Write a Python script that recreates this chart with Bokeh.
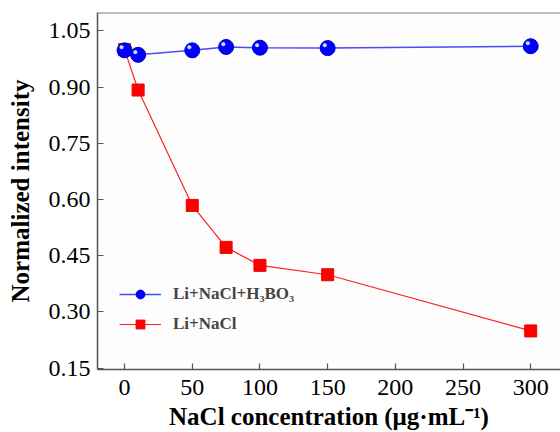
from bokeh.plotting import figure
from bokeh.models import ColumnDataSource, Legend, LegendItem, Span, FixedTicker, NumeralTickFormatter
from bokeh.embed import file_html
from bokeh.resources import INLINE

# data
nacl = [0, 10, 50, 75, 100, 150, 300]
boric = [0.998, 0.986, 0.998, 1.007, 1.005, 1.004, 1.009]
plain = [1.000, 0.892, 0.584, 0.472, 0.424, 0.399, 0.249]
x_ticks = [0, 50, 100, 150, 200, 250, 300]
y_ticks = [0.15, 0.30, 0.45, 0.60, 0.75, 0.90, 1.05]
label_a = "Li+NaCl+H\u2083BO\u2083"
label_b = "Li+NaCl"
x_title = "NaCl concentration (\u03bcg\u00b7mL\u207b\u00b9)"
y_title = "Normalized intensity"

SERIF = "Liberation Serif"

p = figure(width=560, height=432, x_range=(-20, 322), y_range=(0.146, 1.099),
           output_backend="svg", toolbar_location=None,
           min_border_left=97, min_border_right=0, min_border_top=12, min_border_bottom=63)
p.outline_line_color = None
p.grid.visible = False
p.background_fill_color = "#fdfdfd"

src_a = ColumnDataSource(dict(x=nacl, y=boric, t=["\u25cf"] * len(nacl)))
src_b = ColumnDataSource(dict(x=nacl, y=plain))

lb = p.line("x", "y", source=src_b, color="#ff2020", line_width=1.2)
sb = p.scatter("x", "y", source=src_b, marker="square", size=12, fill_color="#ff0000", line_color="#ee0000")
la = p.line("x", "y", source=src_a, color="#4a4aff", line_width=1.5)
sa = p.scatter("x", "y", source=src_a, marker="circle", size=15, fill_color="#0000ff", line_color="#0000c0")
p.text("x", "y", text="t", source=src_a, x_offset=-3, y_offset=-3, text_color="#c8e4ff",
       text_font_size="9px", text_align="center", text_baseline="middle")

for ax in (p.xaxis[0], p.yaxis[0]):
    ax.axis_line_color = "#555555"
    ax.axis_line_width = 1.5
    ax.major_tick_line_color = "#555555"
    ax.major_tick_line_width = 1.2
    ax.major_tick_in = 6
    ax.major_tick_out = 0
    ax.minor_tick_line_color = None
    ax.major_label_text_font = SERIF
    ax.major_label_text_font_size = "24px"
    ax.major_label_text_color = "black"
    ax.axis_label_text_font = SERIF
    ax.axis_label_text_font_style = "bold"
    ax.axis_label_text_font_size = "25px"
    ax.axis_label_text_color = "black"

p.xaxis.ticker = FixedTicker(ticks=x_ticks)
p.yaxis.ticker = FixedTicker(ticks=y_ticks)
p.yaxis.formatter = NumeralTickFormatter(format="0.00")
p.xaxis.axis_label = x_title
p.yaxis.axis_label = y_title
p.xaxis.major_label_standoff = 10
p.yaxis.major_label_standoff = 7
p.xaxis.axis_label_standoff = 5
p.yaxis.axis_label_standoff = 12

top = Span(location=1.099, dimension="width", line_color="#808080", line_width=2)
p.add_layout(top)

legend = Legend(items=[LegendItem(label=label_a, renderers=[la, sa]),
                       LegendItem(label=label_b, renderers=[lb, sb])],
                location=(22, 34), background_fill_alpha=0, border_line_color=None,
                glyph_width=42, glyph_height=22, label_standoff=12, spacing=8,
                label_text_font=SERIF, label_text_font_style="bold",
                label_text_font_size="17px", padding=4, margin=0)
p.add_layout(legend)

open("out.html", "w").write(file_html(p, INLINE))
